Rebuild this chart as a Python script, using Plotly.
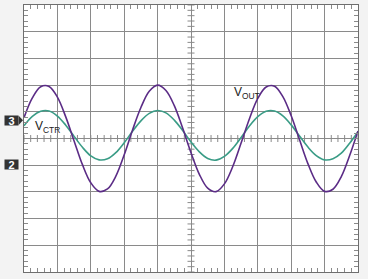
import numpy as np
import plotly.graph_objects as go

# time axis in divisions
t_div = [i * 0.25 for i in range(41)]
# V_OUT (purple), in vertical divisions
v_out = [0.78, 1.52, 1.94, 1.95, 1.55, 0.81, -0.09, -0.98, -1.66, -1.98,
         -1.89, -1.41, -0.61, 0.32, 1.16, 1.77, 2.00, 1.80, 1.23, 0.39,
         -0.53, -1.34, -1.86, -1.99, -1.70, -1.05, -0.17, 0.74, 1.50, 1.93,
         1.96, 1.57, 0.85, -0.05, -0.94, -1.63, -1.98, -1.90, -1.43, -0.64,
         0.28]
# V_CTR (green), in vertical divisions
v_ctr = [0.48, 0.83, 1.02, 1.03, 0.84, 0.50, 0.08, -0.33, -0.65, -0.80,
         -0.76, -0.53, -0.16, 0.27, 0.66, 0.94, 1.05, 0.96, 0.69, 0.30,
         -0.13, -0.50, -0.75, -0.81, -0.67, -0.37, 0.04, 0.47, 0.82, 1.02,
         1.03, 0.85, 0.51, 0.09, -0.32, -0.64, -0.80, -0.76, -0.55, -0.18,
         0.25]

channel_labels = ["3", "2"]
channel_levels = [0.68, -0.98]

GRID = "#8a8a8a"
PURPLE = "#5b2c86"
GREEN = "#3a9c86"

fig = go.Figure()

# center crosshair ticks
hx = np.round(np.arange(0, 10.0001, 0.2), 3)
fig.add_trace(go.Scatter(x=hx, y=[0] * len(hx), mode="markers",
                         marker=dict(symbol="line-ns", size=5,
                                     line=dict(color=GRID, width=1)),
                         hoverinfo="skip", showlegend=False))
vy = np.round(np.arange(-5, 5.0001, 0.2), 3)
fig.add_trace(go.Scatter(x=[5] * len(vy), y=vy, mode="markers",
                         marker=dict(symbol="line-ew", size=5,
                                     line=dict(color=GRID, width=1)),
                         hoverinfo="skip", showlegend=False))

fig.add_trace(go.Scatter(x=t_div, y=v_ctr, mode="lines",
                         line=dict(color=GREEN, width=1.6, shape="spline"),
                         showlegend=False))
fig.add_trace(go.Scatter(x=t_div, y=v_out, mode="lines",
                         line=dict(color=PURPLE, width=1.6, shape="spline"),
                         showlegend=False))

axis_common = dict(showgrid=True, gridcolor=GRID, gridwidth=1,
                   showline=True, linecolor="#6e6e6e", linewidth=1,
                   mirror="allticks", ticks="inside", ticklen=4,
                   tickcolor=GRID, showticklabels=False, zeroline=False,
                   dtick=1, fixedrange=True,
                   minor=dict(dtick=0.2, ticks="inside", ticklen=4,
                              tickcolor=GRID, showgrid=False))

fig.update_xaxes(range=[0, 10], tick0=0, **axis_common)
fig.update_yaxes(range=[-5, 5], tick0=0, **axis_common)

# channel markers
for lab, lev in zip(channel_labels, channel_levels):
    fig.add_annotation(x=0, xref="paper", y=lev, yref="y", text="<b>%s</b>" % lab,
                       showarrow=False, xanchor="right", xshift=-5,
                       width=13, height=9, align="center",
                       font=dict(family="Liberation Sans, Arial", size=11, color="white"),
                       bgcolor="#333333", borderpad=0)

# arrow tip on channel 3 marker
fig.add_shape(type="path", xref="paper", yref="y",
              path="M -0.016 %.3f L -0.003 %.3f L -0.016 %.3f Z" % (
                  channel_levels[0] + 0.17, channel_levels[0], channel_levels[0] - 0.17),
              fillcolor="#333333", line=dict(width=0), layer="above")

fig.add_annotation(x=0.7, y=0.44, xref="x", yref="y",
                   text="V<sub>CTR</sub>", showarrow=False,
                   font=dict(family="Liberation Sans, Arial", size=12, color="#222222"))
fig.add_annotation(x=6.68, y=1.72, xref="x", yref="y",
                   text="V<sub>OUT</sub>", showarrow=False,
                   font=dict(family="Liberation Sans, Arial", size=12, color="#222222"))

fig.update_layout(width=368, height=279,
                  margin=dict(l=24, r=10, t=5, b=7),
                  paper_bgcolor="#f3f3f3", plot_bgcolor="white",
                  showlegend=False)

fig.write_html("out.html", config={"displayModeBar": False})
